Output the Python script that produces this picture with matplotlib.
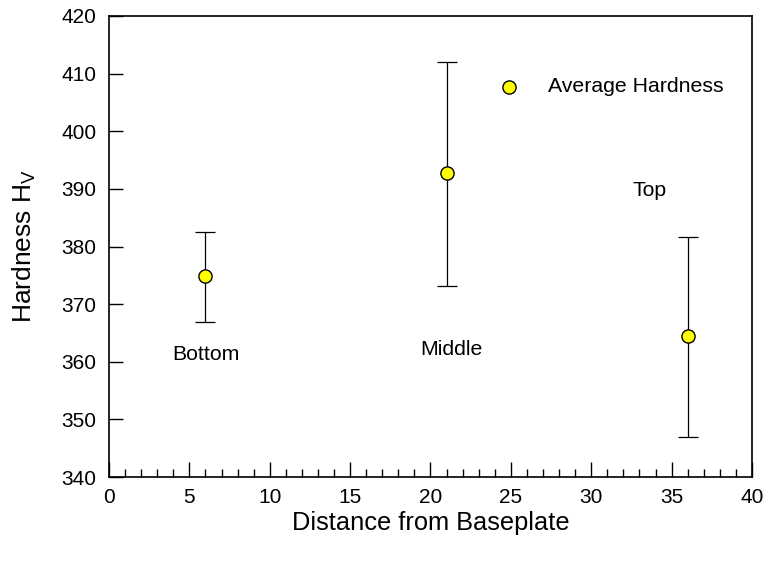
import matplotlib
matplotlib.use("Agg")
import matplotlib.pyplot as plt
import numpy as np
from matplotlib.ticker import MultipleLocator

plt.rcParams['font.family'] = ['Liberation Sans', 'DejaVu Sans']
plt.rcParams['mathtext.fontset'] = 'custom'
plt.rcParams['mathtext.rm'] = 'Liberation Sans'

# data
distance = [6, 21, 36]
hardness = [374.8, 392.7, 364.5]
err_low = [366.9, 373.2, 347.0]
err_high = [382.5, 412.0, 381.7]
region_labels = ["Bottom", "Middle", "Top"]
label_pos = [(6.0, 361.2), (21.3, 362.2), (33.6, 389.8)]

hardness = np.array(hardness)
yerr = [hardness - np.array(err_low), np.array(err_high) - hardness]

fig = plt.figure(figsize=(7.66, 5.61), dpi=100)
ax = fig.add_axes([0.1423, 0.1497, 0.8394, 0.8218])

ax.errorbar(distance, hardness, yerr=yerr, fmt='none', ecolor='black',
            elinewidth=0.9, capsize=7, capthick=0.9, zorder=2)
ax.plot(distance, hardness, 'o', markersize=9.5, markerfacecolor='yellow',
        markeredgecolor='black', markeredgewidth=1, zorder=3)

for txt, (lx, ly) in zip(region_labels, label_pos):
    ax.text(lx, ly, txt, ha='center', va='center', fontsize=15.3)

# legend drawn as a single entry
ax.plot([24.9], [407.7], 'o', markersize=9.5, markerfacecolor='yellow',
        markeredgecolor='black', markeredgewidth=1)
ax.text(27.3, 407.7, "Average Hardness", ha='left', va='center', fontsize=15.3)

ax.set_xlim(0, 40)
ax.set_ylim(340, 420)
ax.xaxis.set_major_locator(MultipleLocator(5))
ax.xaxis.set_minor_locator(MultipleLocator(1))
ax.yaxis.set_major_locator(MultipleLocator(10))

ax.tick_params(axis='x', which='major', direction='in', length=11, width=1,
               labelsize=15, pad=8)
ax.tick_params(axis='x', which='minor', direction='in', length=5.5, width=1)
ax.tick_params(axis='y', which='major', direction='in', length=10, width=1,
               labelsize=15, pad=9)

for s in ax.spines.values():
    s.set_linewidth(1.2)

ax.set_xlabel("Distance from Baseplate", fontsize=18.3, labelpad=3)
ax.set_ylabel(r"Hardness H$_\mathregular{V}$", fontsize=19, labelpad=17)

fig.savefig("out.png", dpi=100)
